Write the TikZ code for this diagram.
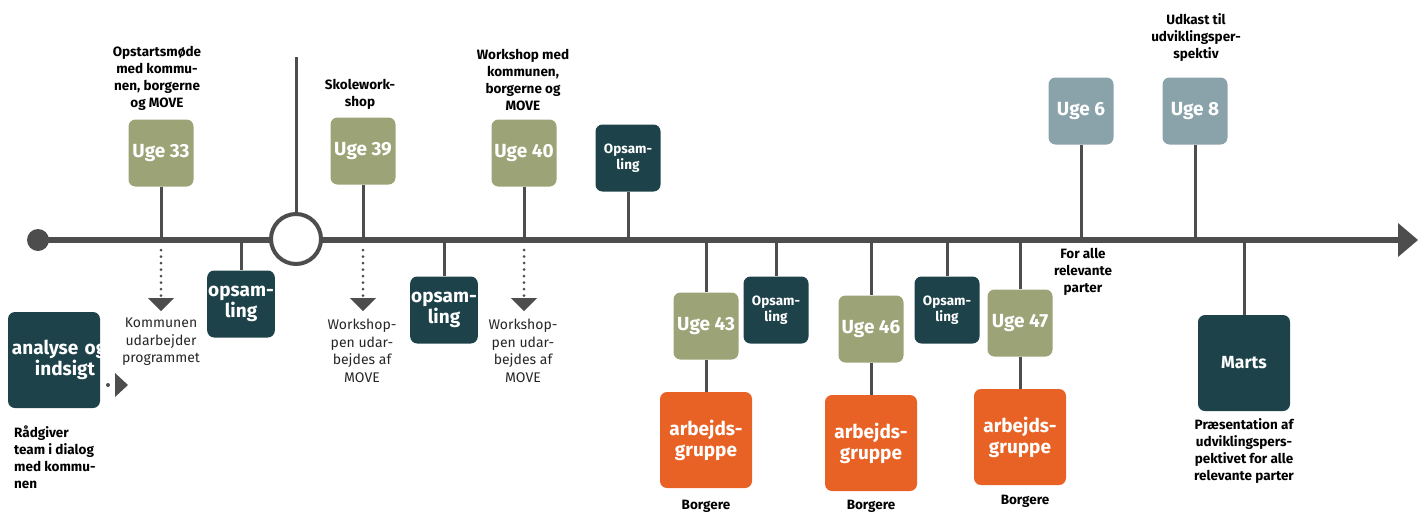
\documentclass[tikz,border=0pt]{standalone}
\usepackage{fontspec}
\setmainfont{Fira Sans}
\usetikzlibrary{calc}
\definecolor{olive}{HTML}{9CA377}
\definecolor{deepteal}{HTML}{1E424A}
\definecolor{orng}{HTML}{E86225}
\definecolor{bluegray}{HTML}{8AA2AA}
\definecolor{linegray}{HTML}{4D4D4D}
\begin{document}
\begin{tikzpicture}[x=1pt,y=-1pt,
  box/.style={rounded corners=7pt, minimum width=65pt, minimum height=67pt, text=white,
    font=\bfseries\fontsize{19}{21}\selectfont, align=center, inner sep=1pt},
  week/.style={box, fill=olive},
  weekb/.style={box, fill=bluegray},
  summ/.style={box, fill=deepteal},
  summs/.style={box, fill=deepteal, font=\bfseries\fontsize{13.5}{16.5}\selectfont},
  bigbox/.style={box, minimum width=92pt, minimum height=96pt},
  lbl/.style={font=\bfseries\fontsize{13.5}{17}\selectfont, align=center, text=black, inner sep=0pt},
  note/.style={font=\fontsize{14}{17.5}\selectfont, align=center, text=black!85, inner sep=0pt},
  conn/.style={draw=linegray, line width=3pt},
  dots/.style={draw=linegray, line width=3pt, line cap=round, dash pattern=on 0pt off 6.5pt},
  tip/.style={fill=linegray}
]
\useasboundingbox (0,0) rectangle (1427,512);
% timeline
\coordinate (tl) at (0,240);
\coordinate (tlstart) at (38,240);
\coordinate (tlend) at (1400,240);
\draw[linegray, line width=6pt] (tlstart) -- (tlend);
\fill[linegray] (tlstart) circle (11pt);
\fill[tip] (tlend) ++(-2,-17) -- ++(20,17) -- ++(-20,17) -- cycle;
% big circle
\coordinate (cc) at (296,239);
\coordinate (ctop) at (296,57);
\draw[conn] (ctop) -- ($(cc)+(0,-25)$);
\draw[linegray, line width=4pt, fill=white] (cc) circle (25pt);

% nodes
\node[week] (u33) at (161,153) {Uge 33};
\node[summ] (o1) at (241,304) {opsam-\\ling};
\node[summ, bigbox, text width=84pt, align=center, inner sep=4pt] (ana) at (54,360) {\mbox{analyse og}\\\hphantom{nn}indsigt};
\node[week] (u39) at (363,151) {Uge 39};
\node[summ] (o2) at (444,310) {opsam-\\ling};
\node[week] (u40) at (524,153) {Uge 40};
\node[summs] (o3) at (628,158) {Opsam-\\ling};
\node[week] (u43) at (706,326) {Uge 43};
\node[summs] (o4) at (776,310) {Opsam-\\ling};
\node[week] (u46) at (871,329) {Uge 46};
\node[summs] (o5) at (947,310) {Opsam-\\ling};
\node[week] (u47) at (1020,323) {Uge 47};
\node[weekb] (u6) at (1081,111) {Uge 6};
\node[weekb] (u8) at (1195,111) {Uge 8};
\node[summ, bigbox, font=\bfseries\fontsize{17.5}{20}\selectfont] (marts) at (1244,363) {Marts};
\node[box, bigbox, fill=orng] (g43) at (706,440) {arbejds-\\gruppe};
\node[box, bigbox, fill=orng] (g46) at (871,443) {arbejds-\\gruppe};
\node[box, bigbox, fill=orng] (g47) at (1020,437) {arbejds-\\gruppe};

% labels
\node[lbl] (l33) at (157,78) {Opstartsmøde\\med kommu-\\nen, borgerne\\og MOVE};
\node[lbl] (l39) at (360,94) {Skolework-\\shop};
\node[lbl] (l40) at (523,80) {Workshop med\\kommunen,\\borgerne og\\MOVE};
\node[lbl] (l8) at (1196,38) {Udkast til\\udviklingsper-\\spektiv};
\node[lbl] (l6) at (1083,272) {For alle\\relevante\\parter};
\node[lbl, align=left, anchor=north west] (lana) at (14,426) {Rådgiver\\team i dialog\\med kommu-\\nen};
\node[lbl] (b43) at (706,506) {Borgere};
\node[lbl] (b46) at (871,506) {Borgere};
\node[lbl] (b47) at (1025,501) {Borgere};
\node[lbl] (lm) at (1244,451) {Præsentation af\\udviklingspers-\\pektivet for alle\\relevante parter};
\node[note] (n33) at (161,342) {Kommunen\\udarbejder\\programmet};
\node[note] (n39) at (362,351) {Workshop-\\pen udar-\\bejdes af\\MOVE};
\node[note] (n40) at (523,351) {Workshop-\\pen udar-\\bejdes af\\MOVE};

% connectors to timeline (above)
\foreach \n in {u33,u39,u40,o3,u6,u8}{
  \draw[conn] (\n.south) -- (\n.south |- tl);
}
% connectors to timeline (below)
\foreach \n in {o1,o2,o4,o5,u43,u46,u47,marts}{
  \draw[conn] (\n.north |- tl) -- (\n.north);
}
\foreach \a/\b in {u43/g43,u46/g46,u47/g47}{
  \draw[conn] (\a.south) -- (\b.north);
}
% dotted arrows
\foreach \n in {u33,u39,u40}{
  \coordinate (\n d) at ($(\n.south |- tl)+(0,71)$);
  \draw[dots] ($(\n.south |- tl)+(0,10)$) -- ($(\n d)+(0,-14)$);
  \fill[tip] (\n d) -- ++(-13,-13) -- ++(26,0) -- cycle;
}
% small arrow after analyse box
\coordinate (adot) at (108,385);
\fill[linegray] (adot) circle (2pt);
\fill[tip] ($(adot)+(7,-12)$) -- ++(13,12) -- ++(-13,12) -- cycle;
\end{tikzpicture}
\end{document}
